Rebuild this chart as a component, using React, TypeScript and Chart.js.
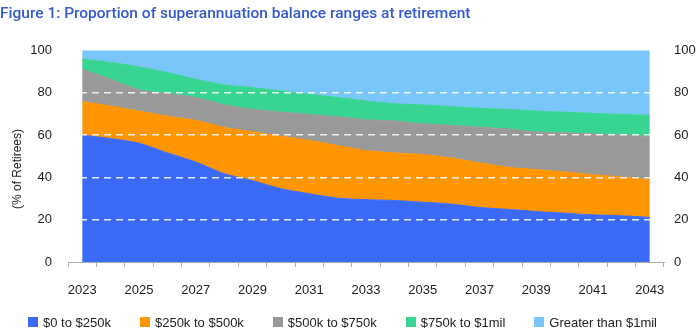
import React, { useEffect, useRef } from "react";
import { Chart, registerables } from "chart.js";

Chart.register(...registerables);

const years = ["2023","2024","2025","2026","2027","2028","2029","2030","2031","2032","2033","2034","2035","2036","2037","2038","2039","2040","2041","2042","2043"];
const seriesNames = ["$0 to $250k", "$250k to $500k", "$500k to $750k", "$750k to $1mil", "Greater than $1mil"];
const band0to250 = [60, 58.4, 56.2, 51.6, 47.3, 41.8, 38.5, 34.7, 32.3, 30.2, 29.5, 29.1, 28.3, 27.4, 25.8, 24.9, 23.9, 23.1, 22.3, 21.9, 21.1];
const band250to500 = [15.9, 15.4, 15.2, 17.4, 19.7, 21.9, 23.1, 24.8, 25.2, 24.9, 23.2, 22.5, 22.5, 21.8, 21.1, 19.9, 19.8, 19.5, 19.0, 18.3, 17.9];
const band500to750 = [15.3, 12.7, 10.1, 10.7, 10.8, 10.7, 10.6, 11.4, 12.3, 13.6, 14.6, 15.1, 14.6, 15.4, 16.9, 18.1, 17.9, 18.5, 19.3, 19.8, 20.4];
const band750to1m = [4.8, 7.9, 10.8, 9.9, 8.7, 9.4, 10.3, 10.0, 9.5, 9.1, 8.9, 8.2, 8.9, 8.9, 8.9, 9.3, 9.8, 9.8, 9.7, 9.8, 10.0];
const bandOver1m = [4.0, 5.6, 7.7, 10.4, 13.5, 16.2, 17.5, 19.1, 20.7, 22.2, 23.8, 25.1, 25.7, 26.5, 27.3, 27.8, 28.6, 29.1, 29.7, 30.2, 30.6];
const colors = ["#3b6af7", "#ff9500", "#999999", "#38d491", "#79c6fb"];
const yTicks = [0, 20, 40, 60, 80, 100];
const titleText = "Figure 1: Proportion of superannuation balance ranges at retirement";
const yTitleText = "(% of Retirees)";

const yTitlePlugin = {
  id: "yTitle",
  afterDraw(chart: any) {
    const ctx = chart.ctx;
    ctx.save();
    ctx.translate(18, 169);
    ctx.rotate(-Math.PI / 2);
    ctx.textAlign = "center";
    ctx.textBaseline = "middle";
    ctx.fillStyle = "#222";
    ctx.font = "12px 'Liberation Sans', Arial, sans-serif";
    ctx.fillText(yTitleText, 0, 0);
    ctx.restore();
  },
};

export default function App() {
  const ref = useRef<HTMLCanvasElement | null>(null);
  useEffect(() => {
    document.body.style.margin = "0";
    const values = [band0to250, band250to500, band500to750, band750to1m, bandOver1m];
    const font = { family: "'Liberation Sans', Arial, sans-serif", size: 13 };
    const chart = new Chart(ref.current!, {
      type: "line",
      data: {
        labels: years,
        datasets: values.map((v, i) => ({
          label: seriesNames[i],
          data: v,
          backgroundColor: colors[i],
          borderColor: colors[i],
          borderWidth: 1,
          pointRadius: 0,
          tension: 0.25,
          fill: i === 0 ? "origin" : "-1",
        })),
      },
      plugins: [yTitlePlugin],
      options: {
        animation: false,
        responsive: false,
        layout: { padding: { left: 0, right: 0, top: 0, bottom: 32 } },
        plugins: {
          title: {
            display: true,
            text: titleText,
            align: "start",
            color: "#3559cf",
            font: { family: "Roboto, Inter, sans-serif", size: 15.5, weight: "500" },
            padding: { top: 5, bottom: 27 },
          },
          legend: { display: false },
          tooltip: { enabled: false },
        },
        scales: {
          x: {
            offset: true,
            afterFit: (s: any) => { s.height = 39; },
            grid: { offset: true, drawOnChartArea: false, drawTicks: true, tickLength: 5, color: "#aaaaaa" },
            border: { display: true, color: "#aaaaaa" },
            ticks: {
              autoSkip: false,
              maxRotation: 0,
              color: "#222",
              font,
              padding: 16,
              callback: (_v: any, i: number) => (i % 2 === 0 ? years[i] : ""),
            },
          },
          y: {
            stacked: true,
            min: 0,
            max: 100,
            afterFit: (s: any) => { s.width = 68; },
            afterBuildTicks: (s: any) => { s.ticks = yTicks.map((v) => ({ value: v })); },
            grid: {
              z: 1,
              drawTicks: false,
              lineWidth: 1.5,
              color: (c: any) => (c.tick && c.tick.value > 0 && c.tick.value < 100 ? "rgba(255,255,255,0.85)" : "rgba(0,0,0,0)"),
            },
            border: { display: false, dash: [7, 5] },
            ticks: { color: "#222", font, padding: 16 },
          },
          y2: {
            position: "right",
            min: 0,
            max: 100,
            display: true,
            afterFit: (s: any) => { s.width = 36; },
            afterBuildTicks: (s: any) => { s.ticks = yTicks.map((v) => ({ value: v })); },
            grid: { display: false, drawTicks: false },
            border: { display: false },
            ticks: { color: "#222", font, padding: 10 },
          },
        },
      } as any,
    });
    return () => chart.destroy();
  }, []);
  return (
    <div style={{ position: "relative", width: 700, height: 333 }}>
      <canvas ref={ref} width={700} height={333} style={{ display: "block" }} />
      <div
        style={{
          position: "absolute",
          left: 28,
          top: 313,
          height: 18,
          display: "flex",
          alignItems: "center",
          gap: 29,
          fontFamily: "'Liberation Sans', Arial, sans-serif",
          fontSize: 13,
          color: "#222",
          whiteSpace: "nowrap",
        }}
      >
        {seriesNames.map((n, i) => (
          <div key={n} style={{ display: "flex", alignItems: "center" }}>
            <span style={{ display: "inline-block", width: 10, height: 10, background: colors[i], marginRight: 5 }} />
            <span>{n}</span>
          </div>
        ))}
      </div>
    </div>
  );
}
